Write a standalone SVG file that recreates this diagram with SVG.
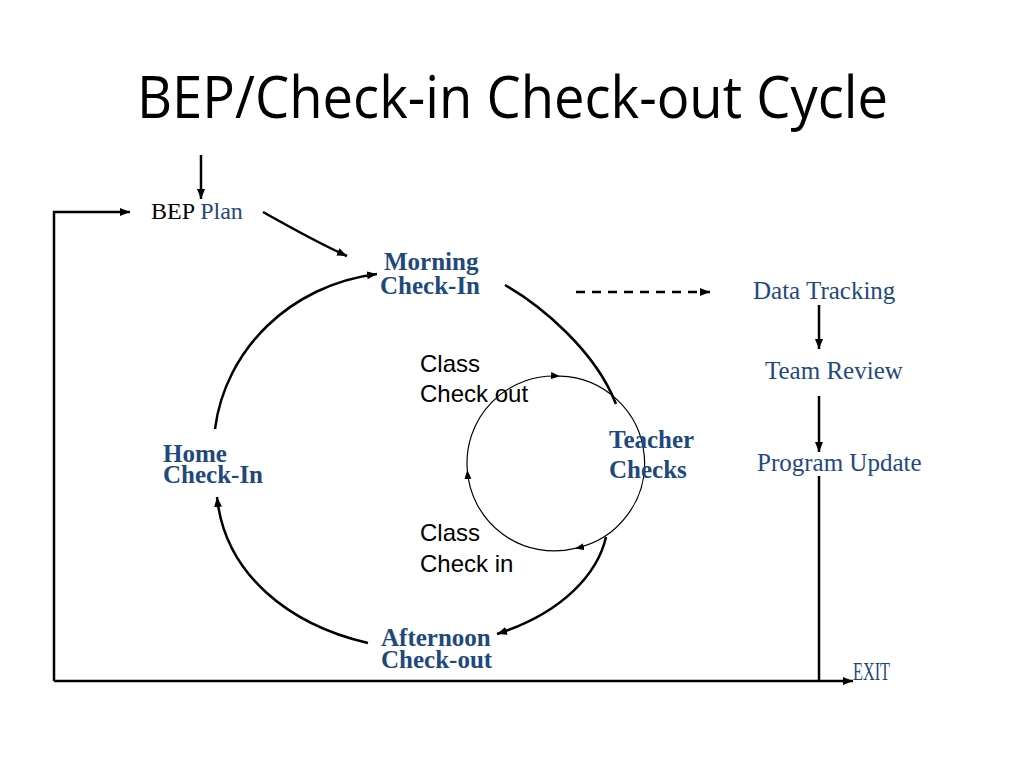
<svg xmlns="http://www.w3.org/2000/svg" width="1024" height="768" viewBox="0 0 1024 768">
<defs>
<marker id="ah" markerUnits="userSpaceOnUse" markerWidth="12" markerHeight="10" refX="10" refY="4" orient="auto">
<path d="M0,0 L10,4 L0,8 z" fill="#000"/>
</marker>
<marker id="ahs" markerUnits="userSpaceOnUse" markerWidth="12" markerHeight="10" refX="9" refY="3.5" orient="auto">
<path d="M0,0 L9,3.5 L0,7 z" fill="#000"/>
</marker>
</defs>
<style>
.t{font-family:"Liberation Serif","Times New Roman",serif;}
.lb{font-family:"Liberation Serif","Times New Roman",serif;font-weight:bold;font-size:25px;fill:#1F497D;}
.lr{font-family:"Liberation Serif","Times New Roman",serif;font-size:25px;fill:#1F497D;}
.ar{font-family:"Liberation Sans",Arial,sans-serif;font-size:24px;fill:#000;}
.c{fill:none;stroke:#000;stroke-width:2.5;}
.cs{fill:none;stroke:#000;stroke-width:1.2;}
</style>
<rect width="1024" height="768" fill="#fff"/>
<text id="title" x="137" y="118" font-family="'Open Sans','Noto Sans',sans-serif" font-size="58" textLength="751" lengthAdjust="spacingAndGlyphs" fill="#000">BEP/Check-in Check-out Cycle</text>

<g id="connectors">
<line class="c" x1="201" y1="155" x2="201" y2="199" marker-end="url(#ah)" stroke-width="2"/>
<path class="c" stroke-width="2" d="M54,681 L54,212 L130,212" marker-end="url(#ah)"/>
<line class="c" stroke-width="2" x1="54" y1="681" x2="853" y2="681" marker-end="url(#ah)"/>
<line class="c" stroke-width="2" x1="819" y1="476" x2="819" y2="681"/>
<path class="c" d="M263,212 Q318,243 347,256" marker-end="url(#ah)"/>
<path class="c" d="M215,429 C225,350 290,285 377,274" marker-end="url(#ah)"/>
<path class="c" d="M505,285 C540,305 595,350 616,404"/>
<path class="c" d="M606,537 C598,572 565,612 497,634" marker-end="url(#ah)"/>
<path class="c" d="M368,643 C290,625 225,575 217,497" marker-end="url(#ah)"/>
<line class="c" x1="576" y1="292" x2="710" y2="292" stroke-dasharray="9,7" marker-end="url(#ah)"/>
<line class="c" stroke-width="2" x1="819" y1="305" x2="819" y2="349" marker-end="url(#ah)"/>
<line class="c" stroke-width="2" x1="819" y1="396" x2="819" y2="452" marker-end="url(#ah)"/>
<path class="cs" d="M560,376.2 A87,87 0 0 1 575,548.4" marker-end="url(#ahs)"/>
<path class="cs" d="M575,548.4 A87,87 0 0 1 467.3,470" marker-end="url(#ahs)"/>
<path class="cs" d="M467.3,470 A87,87 0 0 1 560,376.2" marker-end="url(#ahs)"/>
</g>

<g id="bep-plan"><text class="t" x="151" y="219" font-size="24"><tspan fill="#000">BEP </tspan><tspan fill="#1F497D">Plan</tspan></text></g>
<g id="morning"><text class="lb" x="384" y="270">Morning</text><text class="lb" x="380" y="294">Check-In</text></g>
<g id="teacher"><text class="lb" x="609" y="448">Teacher</text><text class="lb" x="609" y="478">Checks</text></g>
<g id="afternoon"><text class="lb" x="381" y="646">Afternoon</text><text class="lb" x="381" y="668">Check-out</text></g>
<g id="home"><text class="lb" x="163" y="462">Home</text><text class="lb" x="163" y="483">Check-In</text></g>
<g id="class-out"><text class="ar" x="420" y="372">Class</text><text class="ar" x="420" y="402">Check out</text></g>
<g id="class-in"><text class="ar" x="420" y="541">Class</text><text class="ar" x="420" y="572">Check in</text></g>
<g id="data-tracking"><text class="lr" x="753" y="299">Data Tracking</text></g>
<g id="team-review"><text class="lr" x="765" y="379">Team Review</text></g>
<g id="program-update"><text class="lr" x="757" y="471">Program Update</text></g>
<g id="exit"><text class="lr" x="853" y="680" font-size="15" textLength="37" lengthAdjust="spacingAndGlyphs">EXIT</text></g>
</svg>
